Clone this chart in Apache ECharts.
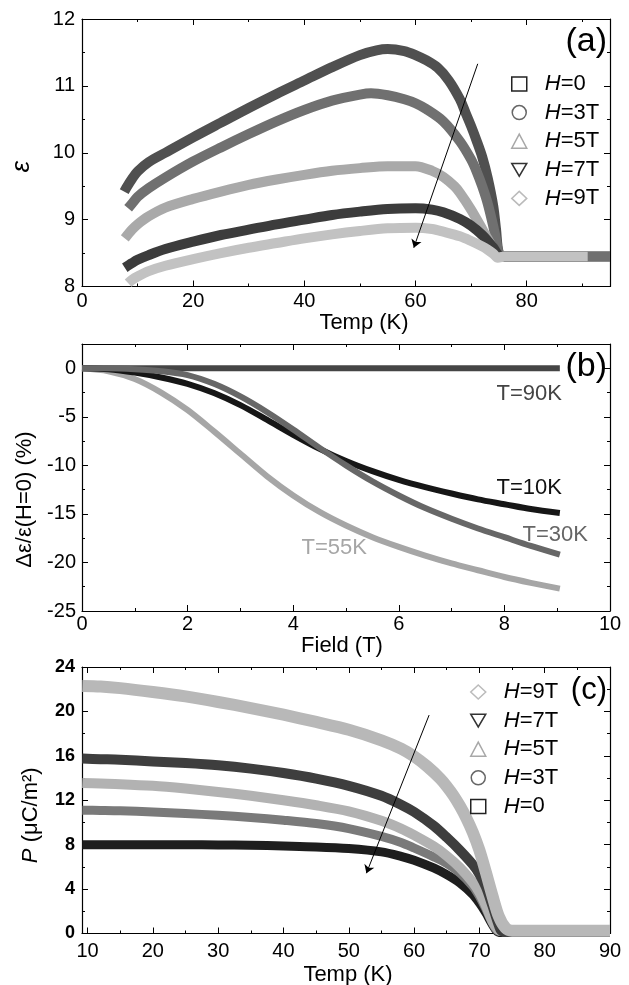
<!DOCTYPE html>
<html>
<head>
<meta charset="utf-8">
<script src="https://cdn.jsdelivr.net/npm/echarts@6/dist/echarts.min.js"></script>
<style>
html,body{margin:0;padding:0;background:#fff;}
#chart{width:629px;height:985px;}
</style>
</head>
<body>
<div id="chart"></div>
<script>
// ---------- Panel (a): epsilon vs Temp ----------
const epsH0 = [[7.6,9.42],[8,9.48],[9,9.61],[10,9.72],[12,9.86],[15,10.0],[20,10.23],[25,10.45],[30,10.67],[35,10.88],[40,11.08],[45,11.28],[50,11.46],[53,11.53],[55,11.55],[58,11.52],[60,11.46],[62,11.38],[64,11.27],[66,11.08],[68,10.8],[69,10.6],[70,10.4],[71,10.18],[72,9.94],[73,9.62],[74,9.2],[74.5,8.85],[75,8.5],[76,8.45],[85,8.45],[95,8.45]];
const epsH3 = [[8.3,9.17],[9,9.24],[10,9.34],[12,9.47],[15,9.63],[20,9.87],[25,10.08],[30,10.28],[35,10.47],[40,10.64],[45,10.78],[50,10.87],[52,10.89],[55,10.86],[58,10.8],[60,10.74],[62,10.65],[65,10.47],[68,10.17],[70,9.9],[71,9.72],[72,9.5],[73,9.24],[74,8.9],[74.5,8.7],[75,8.5],[76,8.45],[85,8.45],[95,8.45]];
const epsH5 = [[7.7,8.72],[9,8.85],[10,8.93],[12,9.05],[15,9.18],[20,9.31],[25,9.42],[30,9.52],[35,9.6],[40,9.67],[45,9.73],[50,9.77],[55,9.8],[60,9.8],[63,9.73],[65,9.64],[67,9.5],[68,9.4],[70,9.15],[72,8.86],[73,8.71],[74,8.57],[75,8.47],[76,8.45],[91,8.45]];
const epsH7 = [[7.7,8.28],[9,8.35],[10,8.4],[12,8.47],[15,8.56],[20,8.67],[25,8.77],[30,8.85],[35,8.93],[40,9.0],[45,9.07],[50,9.12],[55,9.16],[60,9.17],[63,9.15],[65,9.11],[68,9.01],[70,8.91],[72,8.77],[73,8.68],[74,8.58],[75,8.47],[76,8.45],[91,8.45]];
const epsH9 = [[8.3,8.05],[9,8.1],[10,8.15],[12,8.23],[15,8.31],[20,8.41],[25,8.5],[30,8.58],[35,8.65],[40,8.72],[45,8.78],[50,8.83],[55,8.87],[60,8.88],[63,8.86],[65,8.82],[68,8.75],[70,8.68],[72,8.6],[73,8.55],[74,8.49],[74.8,8.43],[76,8.45],[91,8.45]];
const arrowA = [[71.2,11.33],[59.7,8.58]];
const aXMajor = [0,20,40,60,80], aXMinor = [10,30,50,70,90];
const aYMajor = [8,9,10,11,12], aYMinor = [8.5,9.5,10.5,11.5];

// ---------- Panel (b): delta eps vs Field ----------
const fieldB = [0,0.5,1,1.5,2,2.5,3,3.5,4,4.5,5,5.5,6,6.5,7,7.5,8,8.5,9.05];
const dT90 = [0,0,0,0,0,0,0,0,0,0,0,0,0,0,0,0,0,0,0];
const dT10 = [0,-0.1,-0.45,-0.95,-1.6,-2.55,-3.8,-5.3,-6.85,-8.3,-9.55,-10.6,-11.5,-12.25,-12.9,-13.5,-14.0,-14.5,-14.9];
const dT30 = [0,0,-0.1,-0.3,-0.7,-1.6,-2.9,-4.5,-6.3,-8.2,-10.0,-11.65,-13.1,-14.4,-15.5,-16.5,-17.4,-18.3,-19.2];
const dT55 = [0,-0.3,-1.1,-2.5,-4.3,-6.5,-8.8,-11.1,-13.1,-14.8,-16.2,-17.4,-18.4,-19.3,-20.1,-20.8,-21.5,-22.1,-22.7];
const bXMajor = [0,2,4,6,8,10], bXMinor = [1,3,5,7,9];
const bYMajor = [-25,-20,-15,-10,-5,0], bYMinor = [-22.5,-17.5,-12.5,-7.5,-2.5];

// ---------- Panel (c): P vs Temp ----------
const pH9 = [[9.2,22.3],[12,22.25],[15,22.1],[20,21.75],[25,21.35],[30,20.85],[35,20.3],[40,19.7],[45,19.05],[50,18.35],[55,17.4],[58,16.65],[60,15.95],[62,15.05],[64,13.95],[65,13.25],[66,12.45],[67,11.5],[68,10.4],[69,9.1],[70,7.5],[71,5.5],[72,3.4],[73,1.5],[74,0.5],[75,0.25],[90,0.25]];
const pH7 = [[9.2,15.75],[12,15.7],[15,15.65],[20,15.5],[25,15.35],[30,15.15],[35,14.85],[40,14.45],[45,13.95],[50,13.3],[55,12.4],[58,11.6],[60,10.95],[63,9.7],[65,8.65],[67,7.5],[69,6.2],[70,5.35],[71,4.2],[72,2.5],[73,0.7],[73.5,0.2],[90,0.2]];
const pH5 = [[9.2,13.55],[12,13.5],[15,13.45],[20,13.3],[25,13.05],[30,12.75],[35,12.4],[40,12.0],[45,11.55],[50,11.0],[55,10.15],[58,9.45],[60,8.85],[63,7.85],[65,7.0],[67,5.95],[69,4.6],[70,3.7],[71,2.5],[72,1.1],[73,0.3],[74,0.2],[90,0.2]];
const pH3 = [[9.2,11.1],[12,11.08],[15,11.05],[20,10.95],[25,10.8],[30,10.65],[35,10.45],[40,10.2],[45,9.9],[50,9.45],[55,8.75],[58,8.2],[60,7.7],[63,6.9],[65,6.3],[67,5.45],[69,4.25],[70,3.35],[71,2.2],[72,0.95],[73,0.2],[90,0.2]];
const pH0 = [[9.2,8.0],[15,8.0],[20,8.0],[25,8.0],[30,7.98],[35,7.95],[40,7.88],[45,7.8],[50,7.65],[55,7.35],[58,6.95],[60,6.6],[63,5.9],[65,5.3],[67,4.55],[69,3.5],[70,2.75],[71,1.85],[72,0.8],[73,0.1],[90,0.1]];
const arrowC = [[62.3,19.67],[52.7,5.43]];
const cXMajor = [10,20,30,40,50,60,70,80,90], cXMinor = [15,25,35,45,55,65,75,85];
const cYMajor = [0,4,8,12,16,20,24], cYMinor = [2,6,10,14,18,22];

const legendA = ['H=0','H=3T','H=5T','H=7T','H=9T'];
const legendC = ['H=9T','H=7T','H=5T','H=3T','H=0'];

// ---------- build ----------
const FONT = "'Liberation Sans', Arial, sans-serif";
const chart = echarts.init(document.getElementById('chart'), null, {renderer:'canvas'});

function makeAxes(dim, g, min, max, major, minor, o) {
  const pos = dim === 'x' ? ['bottom','top'] : ['left','right'];
  const base = {gridIndex:g, type:'value', min:min, max:max, splitLine:{show:false}, minorTick:{show:false}, offset:0};
  const line = {show:true, onZero:false, lineStyle:{color:'#000', width:1.2}};
  const tickStyle = {color:'#000', width:1};
  return [
    Object.assign({}, base, {
      position:pos[0], axisLine:line,
      axisTick:{show:true, inside:true, length:6, customValues:major, lineStyle:tickStyle},
      axisLabel:Object.assign({show:true, customValues:major, color:'#000', fontFamily:FONT, fontSize:20}, o.label||{}),
      name:o.name, nameLocation:'middle', nameGap:o.nameGap, nameRotate:o.nameRotate||0,
      nameTextStyle:Object.assign({color:'#000', fontFamily:FONT, fontSize:22}, o.nameStyle||{})
    }),
    Object.assign({}, base, {
      position:pos[0], axisLine:{show:false, onZero:false},
      axisTick:{show:true, inside:true, length:3, customValues:minor, lineStyle:tickStyle},
      axisLabel:{show:false}
    }),
    Object.assign({}, base, {
      position:pos[1], axisLine:line,
      axisTick:{show:true, inside:true, length:6, customValues:major, lineStyle:tickStyle},
      axisLabel:{show:false}
    }),
    Object.assign({}, base, {
      position:pos[1], axisLine:{show:false, onZero:false},
      axisTick:{show:true, inside:true, length:3, customValues:minor, lineStyle:tickStyle},
      axisLabel:{show:false}
    })
  ];
}

const xAxes = [].concat(
  makeAxes('x',0,0,95,aXMajor,aXMinor,{name:'Temp (K)', nameGap:20, nameStyle:{padding:[0,0,0,36]}, label:{margin:5}}),
  makeAxes('x',1,0,10,bXMajor,bXMinor,{name:'Field (T)', nameGap:20, nameStyle:{padding:[0,8,0,0]}, label:{margin:3}}),
  makeAxes('x',2,9.15,90,cXMajor,cXMinor,{name:'Temp (K)', nameGap:30, nameStyle:{padding:[0,0,0,4]}, label:{margin:8}})
);
const yAxes = [].concat(
  makeAxes('y',0,8,12,aYMajor,aYMinor,{name:'ε', nameGap:47, nameRotate:90, nameStyle:{fontSize:26, fontStyle:'italic', padding:[0,28,0,0]}, label:{margin:7}}),
  makeAxes('y',1,-25,2.5,bYMajor,bYMinor,{name:'Δε/ε(H=0) (%)', nameGap:42, nameRotate:90, nameStyle:{padding:[0,44,0,0]}, label:{margin:6}}),
  makeAxes('y',2,0,24,cYMajor,cYMinor,{name:'{i|P} (μC/m²)', nameGap:40, nameRotate:90,
     nameStyle:{padding:[0,30,0,0], rich:{i:{fontStyle:'italic', fontSize:22, fontFamily:FONT, color:'#000'}}},
     label:{margin:7, fontWeight:'bold', fontSize:18}})
);

function lineSeries(name, g, data, color, width, extra) {
  return Object.assign({
    name:name, type:'line', xAxisIndex:4*g, yAxisIndex:4*g, data:data,
    showSymbol:false, symbol:'none', smooth:0.3,
    lineStyle:{color:color, width:width, join:'round'}, itemStyle:{color:color}, z:2
  }, extra||{});
}

function arrowMark(pts) {
  return {
    silent:true, symbol:['none','arrow'], symbolSize:8, animation:false,
    label:{show:false}, lineStyle:{color:'#000', width:1, type:'solid'},
    emphasis:{disabled:true},
    data:[[{coord:pts[0]},{coord:pts[1]}]]
  };
}

const seriesA = [
  lineSeries('H=0',0,epsH0,'#505050',10,{markLine:arrowMark(arrowA)}),
  lineSeries('H=3T',0,epsH3,'#707070',10),
  lineSeries('H=5T',0,epsH5,'#a9a9a9',10),
  lineSeries('H=7T',0,epsH7,'#3c3c3c',10),
  lineSeries('H=9T',0,epsH9,'#c2c2c2',10)
];
function pairs(xs, ys){ return xs.map((x,i)=>[x, ys[i]]); }
const seriesB = [
  lineSeries('T=90K',1,pairs(fieldB,dT90),'#454545',6,{smooth:false}),
  lineSeries('T=55K',1,pairs(fieldB,dT55),'#a6a6a6',6),
  lineSeries('T=10K',1,pairs(fieldB,dT10),'#161616',6),
  lineSeries('T=30K',1,pairs(fieldB,dT30),'#676767',6)
];
const seriesC = [
  lineSeries('H=0',2,pH0,'#1e1e1e',9,{markLine:arrowMark(arrowC)}),
  lineSeries('H=3T',2,pH3,'#7a7a7a',9),
  lineSeries('H=5T',2,pH5,'#b2b2b2',10),
  lineSeries('H=7T',2,pH7,'#3e3e3e',10),
  lineSeries('H=9T',2,pH9,'#b8b8b8',12)
];

const legendIcons = {
  'H=0':{icon:'rect', color:'#222'},
  'H=3T':{icon:'circle', color:'#666'},
  'H=5T':{icon:'triangle', color:'#a8a8a8'},
  'H=7T':{icon:'path://M0,0 L20,0 L10,17 Z', color:'#333'},
  'H=9T':{icon:'diamond', color:'#bbb'}
};
function legendData(list){
  return list.map(n => ({name:n, icon:legendIcons[n].icon,
    itemStyle:{color:'rgba(255,255,255,0)', borderColor:legendIcons[n].color, borderWidth:1.5}}));
}
function legendCfg(list, left, top, padLeft){
  return {
    orient:'vertical', left:left, top:top, itemWidth:15, itemHeight:14, itemGap:6.6,
    selectedMode:false, data:legendData(list),
    formatter: n => '{i|H}' + n.slice(1),
    textStyle:{fontFamily:FONT, fontSize:22, color:'#000', lineHeight:22, padding:[0,0,0,padLeft],
      rich:{i:{fontStyle:'italic', fontFamily:FONT, fontSize:22, color:'#000', lineHeight:22}}}
  };
}

const option = {
  animation:false,
  backgroundColor:'#fff',
  grid:[
    {left:82, top:19, width:528, height:267.5, outerBoundsMode:'none', containLabel:false},
    {left:82, top:344, width:528, height:267, outerBoundsMode:'none', containLabel:false},
    {left:82, top:667, width:528, height:266.5, outerBoundsMode:'none', containLabel:false}
  ],
  xAxis:xAxes,
  yAxis:yAxes,
  legend:[
    legendCfg(legendA, 506, 68, 13),
    legendCfg(legendC, 465, 676, 13)
  ],
  series:[].concat(seriesA, seriesB, seriesC),
  graphic:[
    {type:'text', x:607, y:42, style:{text:'(a)', font:"34px 'Liberation Sans', Arial", fill:'#000', align:'right', verticalAlign:'middle'}},
    {type:'text', x:607, y:367, style:{text:'(b)', font:"34px 'Liberation Sans', Arial", fill:'#000', align:'right', verticalAlign:'middle'}},
    {type:'text', x:607, y:690, style:{text:'(c)', font:"31px 'Liberation Sans', Arial", fill:'#000', align:'right', verticalAlign:'middle'}},
    {type:'text', x:562, y:394, style:{text:'T=90K', font:"22px 'Liberation Sans', Arial", fill:'#444', align:'right', verticalAlign:'middle'}},
    {type:'text', x:562, y:488, style:{text:'T=10K', font:"22px 'Liberation Sans', Arial", fill:'#111', align:'right', verticalAlign:'middle'}},
    {type:'text', x:588, y:535, style:{text:'T=30K', font:"22px 'Liberation Sans', Arial", fill:'#666', align:'right', verticalAlign:'middle'}},
    {type:'text', x:367, y:548, style:{text:'T=55K', font:"22px 'Liberation Sans', Arial", fill:'#a6a6a6', align:'right', verticalAlign:'middle'}}
  ]
};
chart.setOption(option);
</script>
</body>
</html>
